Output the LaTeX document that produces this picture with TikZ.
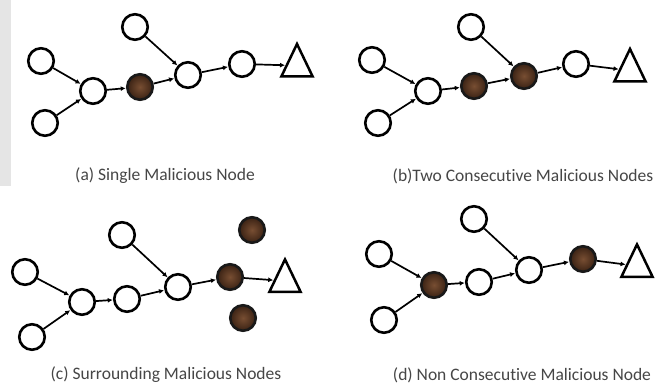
\documentclass[tikz,border=0pt]{standalone}
\usepackage{fontspec}
\setmainfont[Ligatures=NoCommon]{Carlito}
\usetikzlibrary{arrows.meta,shapes.geometric}
\definecolor{malin}{RGB}{120,78,50}
\definecolor{malout}{RGB}{58,34,20}
\definecolor{capgray}{RGB}{70,70,70}
\tikzset{
  good/.style={circle,draw=black,line width=2.6pt,fill=white,minimum size=25.5pt,inner sep=0pt},
  bad/.style={circle,draw=black!90,line width=2.6pt,inner color=malin,outer color=malout,minimum size=25.5pt,inner sep=0pt},
  sink/.style={regular polygon,regular polygon sides=3,draw=black,line width=2.5pt,minimum size=36pt,inner sep=0pt,yscale=1.2},
  link/.style={line width=1.7pt,-{Latex[length=5pt,width=5pt]},shorten >=0.3pt},
  captext/.style={text=capgray,font=\fontsize{17.5}{19}\selectfont}
}
\begin{document}
\begin{tikzpicture}[x=1pt,y=-1pt]
\useasboundingbox (0,0) rectangle (662,385);
\fill[white] (0,0) rectangle (662,385);
\fill[black!10] (0,0) rectangle (11,186);
% (a)
\node[good] (a1) at (41,61) {};
\node[good] (a2) at (45,123) {};
\node[good] (aj) at (93,91) {};
\node[bad]  (am) at (140,87) {};
\node[good] (at) at (135,27) {};
\node[good] (an3) at (188,75) {};
\node[good] (an4) at (242,64) {};
\node[sink] (as) at (297,65.6) {};
\draw[link] (a1) -- (aj);
\draw[link] (a2) -- (aj);
\draw[link] (aj) -- (am);
\draw[link] (am) -- (an3);
\draw[link] (at) -- (an3);
\draw[link] (an3) -- (an4);
\draw[link] (an4) -- (as);
\node[captext] (acap) at (165,176) {(a) Single Malicious Node};
% (b)
\node[good] (b1) at (372,60) {};
\node[good] (b2) at (378,123) {};
\node[good] (bj) at (428,91) {};
\node[bad]  (bm1) at (474,86) {};
\node[good] (bt) at (471,27) {};
\node[bad]  (bm2) at (524,76) {};
\node[good] (bn4) at (576,64) {};
\node[sink] (bs) at (630,70.6) {};
\draw[link] (b1) -- (bj);
\draw[link] (b2) -- (bj);
\draw[link] (bj) -- (bm1);
\draw[link] (bm1) -- (bm2);
\draw[link] (bt) -- (bm2);
\draw[link] (bm2) -- (bn4);
\draw[link] (bn4) -- (bs);
\node[captext] (bcap) at (523,176) {(b)Two Consecutive Malicious Nodes};
% (c)
\node[good] (c1) at (25,272) {};
\node[good] (c2) at (32,337) {};
\node[good] (cj) at (82,302) {};
\node[good] (cn2) at (127,299) {};
\node[good] (ct) at (122,235) {};
\node[good] (cn3) at (178,287) {};
\node[bad]  (cm) at (230,277) {};
\node[bad]  (cmt) at (252,230) {};
\node[bad]  (cmb) at (243,318) {};
\node[sink] (cs) at (285,281) {};
\draw[link] (c1) -- (cj);
\draw[link] (c2) -- (cj);
\draw[link] (cj) -- (cn2);
\draw[link] (cn2) -- (cn3);
\draw[link] (ct) -- (cn3);
\draw[link] (cn3) -- (cm);
\draw[link] (cm) -- (cs);
\node[captext] (ccap) at (166,375) {(c) Surrounding Malicious Nodes};
% (d)
\node[good] (d1) at (379,254) {};
\node[good] (d2) at (384,320) {};
\node[bad]  (dj) at (434,285) {};
\node[good] (dn2) at (479,282) {};
\node[good] (dt) at (474,219) {};
\node[good] (dn3) at (529,270) {};
\node[bad]  (dm) at (583,259) {};
\node[sink] (ds) at (637,266) {};
\draw[link] (d1) -- (dj);
\draw[link] (d2) -- (dj);
\draw[link] (dj) -- (dn2);
\draw[link] (dn2) -- (dn3);
\draw[link] (dt) -- (dn3);
\draw[link] (dn3) -- (dm);
\draw[link] (dm) -- (ds);
\node[captext] (dcap) at (522,375) {(d) Non Consecutive Malicious Node};
\end{tikzpicture}
\end{document}
